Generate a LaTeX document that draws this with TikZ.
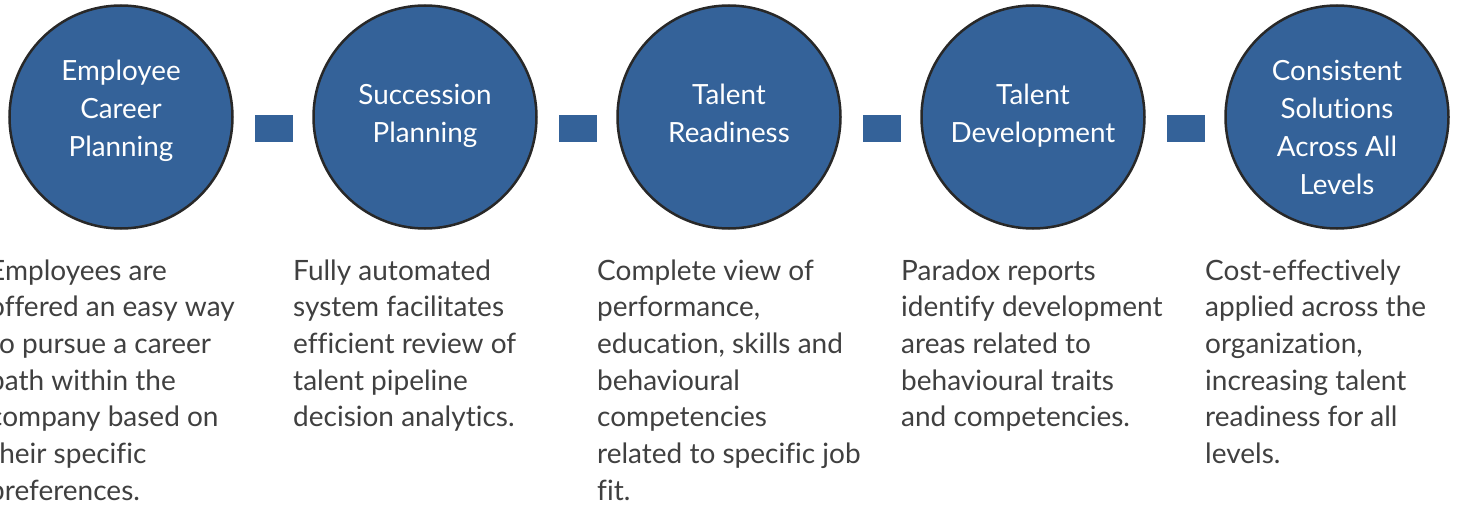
\documentclass[tikz,border=0pt]{standalone}
\usepackage{fontspec}
\setmainfont{Lato}[Ligatures=NoCommon]
\definecolor{circfill}{RGB}{52,98,153}
\definecolor{circedge}{RGB}{40,40,40}
\definecolor{bodygray}{RGB}{64,64,64}
\begin{document}
\begin{tikzpicture}[x=1pt,y=-1pt,
 stage/.style={circle, draw=circedge, line width=2.5pt, fill=circfill, minimum size=223pt, inner sep=0pt},
 linkbox/.style={fill=circfill, minimum width=38pt, minimum height=27pt, inner sep=0pt},
 ctext/.style={text=white, font=\fontsize{27.8}{38}\selectfont, align=center, anchor=base, inner sep=0pt},
 btext/.style={text=bodygray, font=\fontsize{28}{36.7}\selectfont, align=left, anchor=base west, inner sep=0pt}]
\useasboundingbox (0,0) rectangle (1460,506);
\clip (0,0) rectangle (1460,506);
\fill[white] (0,0) rectangle (1460,506);
% circles
\node[stage] (c1) at (121,117) {};
\node[stage] (c2) at (425,117) {};
\node[stage] (c3) at (729,117) {};
\node[stage] (c4) at (1033,117) {};
\node[stage] (c5) at (1337,117) {};
% links
\node[linkbox] (l1) at (274,128.5) {};
\node[linkbox] (l2) at (578,128.5) {};
\node[linkbox] (l3) at (882,128.5) {};
\node[linkbox] (l4) at (1186,128.5) {};
% circle texts (anchored at the baseline of the last line)
\node[ctext] (t1) at (121,156) {Employee\\Career\\Planning};
\node[ctext] (t2) at (425,142) {Succession\\Planning};
\node[ctext] (t3) at (729,142) {Talent\\Readiness};
\node[ctext] (t4) at (1033,142) {Talent\\Development};
\node[ctext] (t5) at (1337,194) {Consistent\\Solutions\\Across All\\Levels};
% body texts (anchored at the baseline of the last line)
\node[btext] (b1) at (-11,500.2) {Employees are\\offered an easy way\\to pursue a career\\path within the\\company based on\\their specific\\preferences.};
\node[btext] (b2) at (293,426.8) {Fully automated\\system facilitates\\efficient review of\\talent pipeline\\decision analytics.};
\node[btext] (b3) at (597,500.2) {Complete view of\\performance,\\education, skills and\\behavioural\\competencies\\related to specific job\\fit.};
\node[btext] (b4) at (901,426.8) {Paradox reports\\identify development\\areas related to\\behavioural traits\\and competencies.};
\node[btext] (b5) at (1205,463.5) {Cost-effectively\\applied across the\\organization,\\increasing talent\\readiness for all\\levels.};
\end{tikzpicture}
\end{document}
